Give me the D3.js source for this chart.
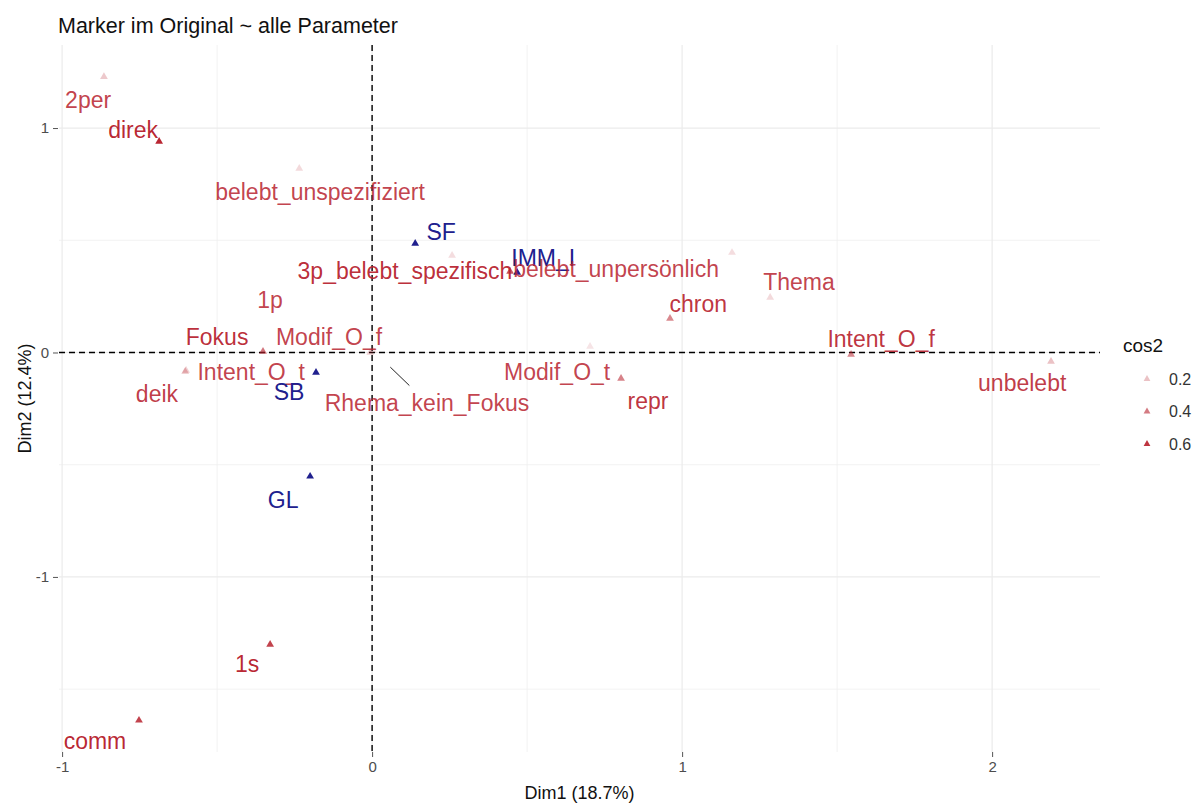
<!DOCTYPE html>
<html>
<head>
<meta charset="utf-8">
<script src="https://cdn.jsdelivr.net/npm/d3@7"></script>
<style>
  html, body { margin: 0; padding: 0; background: #ffffff; }
  svg { display: block; font-family: "Liberation Sans", Arial, sans-serif; }
</style>
</head>
<body>
<svg id="chart" width="1197" height="803"></svg>
<script>
// MCA variable categories: coordinates on Dim1 / Dim2
const categories = [
  "2per", "direk", "belebt_unspezifiziert", "SF", "1p", "3p_belebt_spezifisch",
  "IMM_I", "belebt_unpersönlich", "Thema", "chron", "Fokus", "Modif_O_f",
  "Rhema_kein_Fokus", "deik", "Intent_O_t", "SB", "Modif_O_t", "repr",
  "Intent_O_f", "unbelebt", "GL", "1s", "comm"
];
const dim1 = [
  -0.865, -0.687, -0.235, 0.139, 0.258, 0.445,
  0.468, 1.161, 1.284, 0.961, -0.352, -0.006,
  0.003, -0.603, -0.600, -0.181, 0.703, 0.803,
  1.545, 2.190, -0.200, -0.329, -0.752
];
const dim2 = [
  1.229, 0.940, 0.820, 0.486, 0.432, 0.361,
  0.356, 0.445, 0.245, 0.151, 0.004, 0.000,
  0.009, -0.085, -0.080, -0.089, 0.027, -0.116,
  -0.009, -0.040, -0.552, -1.301, -1.639
];
// quality of representation (active categories); null for supplementary ones
const cos2 = [
  0.18, 0.64, 0.13, null, 0.12, 0.50,
  null, 0.12, 0.13, 0.36, 0.42, 0.15,
  0.10, 0.20, 0.15, null, 0.10, 0.38,
  0.36, 0.20, null, 0.56, 0.56
];
// "active" or "sup"(plementary) variable category
const group = [
  "active", "active", "active", "sup", "active", "active",
  "sup", "active", "active", "active", "active", "active",
  "active", "active", "active", "sup", "active", "active",
  "active", "active", "sup", "active", "active"
];
// repelled label positions (data units)
const labelDim1 = [
  -0.916, -0.771, -0.168, 0.223, -0.329, 0.106,
  0.552, 0.787, 1.377, 1.052, -0.500, -0.139,
  0.177, -0.694, -0.390, -0.268, 0.597, 0.890,
  1.642, 2.097, -0.287, -0.403, -0.894
];
const labelDim2 = [
  1.127, 0.993, 0.717, 0.539, 0.236, 0.361,
  0.423, 0.370, 0.312, 0.214, 0.071, 0.071,
  -0.223, -0.183, -0.089, -0.178, -0.085, -0.218,
  0.058, -0.134, -0.655, -1.390, -1.733
];
const leaderLabels = ["Rhema_kein_Fokus"];

const xMajor = [-1, 0, 1, 2];
const xMinor = [-0.5, 0.5, 1.5];
const yMajor = [-1, 0, 1];
const yMinor = [-1.5, -0.5, 0.5];
const legendValues = [0.2, 0.4, 0.6];

const titleText = "Marker im Original ~ alle Parameter";
const xTitle = "Dim1 (18.7%)";
const yTitle = "Dim2 (12.4%)";

const RED = "#b8232f";
const BLUE = "#20208e";

const svg = d3.select("#chart");
const panel = { left: 59, right: 1100, top: 45, bottom: 752 };

const x = d3.scaleLinear().domain([-1.01, 2.348]).range([panel.left, panel.right]);
const y = d3.scaleLinear().domain([-1.78, 1.37]).range([panel.bottom, panel.top]);
const alpha = d3.scaleLinear().domain([0.1, 0.65]).range([0.12, 1]).clamp(true);

const data = categories.map((name, i) => ({
  name, x: dim1[i], y: dim2[i], cos2: cos2[i], group: group[i],
  lx: labelDim1[i], ly: labelDim2[i]
}));

// grid
const grid = svg.append("g");
grid.selectAll(".vminor").data(xMinor).join("line")
  .attr("x1", d => x(d)).attr("x2", d => x(d))
  .attr("y1", panel.top).attr("y2", panel.bottom)
  .attr("stroke", "#efefef").attr("stroke-width", 0.8);
grid.selectAll(".hminor").data(yMinor).join("line")
  .attr("y1", d => y(d)).attr("y2", d => y(d))
  .attr("x1", panel.left).attr("x2", panel.right)
  .attr("stroke", "#efefef").attr("stroke-width", 0.8);
grid.selectAll(".vmajor").data(xMajor).join("line")
  .attr("x1", d => x(d)).attr("x2", d => x(d))
  .attr("y1", panel.top).attr("y2", panel.bottom)
  .attr("stroke", "#ebebeb").attr("stroke-width", 1.2);
grid.selectAll(".hmajor").data(yMajor).join("line")
  .attr("y1", d => y(d)).attr("y2", d => y(d))
  .attr("x1", panel.left).attr("x2", panel.right)
  .attr("stroke", "#ebebeb").attr("stroke-width", 1.2);

// axes
const fmt = d => String(d);
const xAxis = d3.axisBottom(x).tickValues(xMajor).tickSize(5).tickPadding(4).tickFormat(fmt);
const yAxis = d3.axisLeft(y).tickValues(yMajor).tickSize(5).tickPadding(4).tickFormat(fmt);
const gx = svg.append("g").attr("transform", `translate(0,${panel.bottom})`).call(xAxis);
const gy = svg.append("g").attr("transform", `translate(${panel.left - 1},0)`).call(yAxis);
[gx, gy].forEach(g => {
  g.select(".domain").remove();
  g.selectAll(".tick line").attr("stroke", "#555").attr("stroke-width", 1);
  g.selectAll(".tick text").attr("fill", "#4d4d4d")
    .style("font-family", "'Liberation Sans', Arial, sans-serif").style("font-size", "15px");
});

// reference lines at the origin
svg.append("line")
  .attr("x1", x(0)).attr("x2", x(0)).attr("y1", panel.top).attr("y2", panel.bottom)
  .attr("stroke", "#000").attr("stroke-width", 1.4).attr("stroke-dasharray", "6,4");
svg.append("line")
  .attr("x1", panel.left).attr("x2", panel.right).attr("y1", y(0)).attr("y2", y(0))
  .attr("stroke", "#000").attr("stroke-width", 1.4).attr("stroke-dasharray", "6,4");

const tri = d3.symbol().type(d3.symbolTriangle).size(26);
const colorOf = d => d.group === "sup" ? BLUE : RED;
const pointOpacity = d => d.group === "sup" ? 1 : alpha(d.cos2);
const textOpacity = d => d.group === "sup" ? 1 : 0.85 + 0.15 * (alpha(d.cos2) - 0.12) / 0.88;

// points
svg.append("g").selectAll("path").data(data).join("path")
  .attr("d", tri)
  .attr("transform", d => `translate(${x(d.x)},${y(d.y)})`)
  .attr("fill", colorOf)
  .attr("fill-opacity", pointOpacity);

// labels
const labels = svg.append("g").selectAll("text").data(data).join("text")
  .attr("x", d => x(d.lx)).attr("y", d => y(d.ly))
  .attr("text-anchor", "middle").attr("dominant-baseline", "central")
  .attr("fill", colorOf).attr("fill-opacity", textOpacity)
  .style("font-size", "23px")
  .text(d => d.name);

// leader segments for labels pushed away from their point
labels.filter(d => leaderLabels.includes(d.name)).each(function (d) {
  const bb = this.getBBox();
  const px = x(d.x), py = y(d.y), lx = x(d.lx), ly = y(d.ly);
  const dx = lx - px, dy = ly - py, len = Math.hypot(dx, dy);
  const ux = dx / len, uy = dy / len;
  const sx = px + ux * 24, sy = py + uy * 24;
  // end where the segment meets the top of the label box
  const t = (bb.y - 4 - py) / dy;
  svg.append("line")
    .attr("x1", sx).attr("y1", sy)
    .attr("x2", px + dx * t).attr("y2", py + dy * t)
    .attr("stroke", "#222").attr("stroke-width", 1);
});

// title
svg.append("text").attr("x", 58).attr("y", 33)
  .attr("fill", "#111").style("font-size", "21.5px").text(titleText);

// axis titles
svg.append("text").attr("x", (panel.left + panel.right) / 2).attr("y", 799)
  .attr("text-anchor", "middle").attr("fill", "#111").style("font-size", "18px").text(xTitle);
svg.append("text")
  .attr("transform", `translate(31,${(panel.top + panel.bottom) / 2}) rotate(-90)`)
  .attr("text-anchor", "middle").attr("fill", "#111").style("font-size", "18px").text(yTitle);

// legend for cos2
const legend = svg.append("g");
legend.append("text").attr("x", 1123).attr("y", 345).attr("dominant-baseline", "central")
  .attr("fill", "#111").style("font-size", "19px").text("cos2");
const keyY = d3.scalePoint().domain(legendValues).range([379, 444]);
legend.selectAll("path").data(legendValues).join("path")
  .attr("d", d3.symbol().type(d3.symbolTriangle).size(20))
  .attr("transform", d => `translate(1147,${keyY(d)})`)
  .attr("fill", RED).attr("fill-opacity", d => alpha(d));
legend.selectAll("text.key").data(legendValues).join("text")
  .attr("class", "key")
  .attr("x", 1169).attr("y", d => keyY(d)).attr("dominant-baseline", "central")
  .attr("fill", "#333").style("font-size", "16px").text(d => d.toFixed(1));
</script>
</body>
</html>
